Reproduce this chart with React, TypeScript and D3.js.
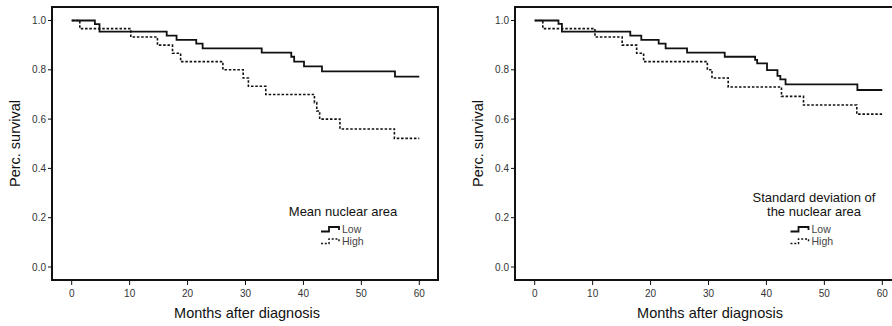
import React from 'react';
import * as d3 from 'd3';

// survival curves (months, proportion surviving)
const meanLowT = [0, 4.0, 4.8, 16.4, 18.1, 21.5, 22.6, 32.8, 37.9, 38.4, 40.1, 43.2, 55.8, 60];
const meanLowS = [1.0, 0.985, 0.955, 0.939, 0.921, 0.906, 0.887, 0.87, 0.853, 0.833, 0.814, 0.794, 0.772, 0.772];
const meanHighT = [0, 1.4, 10.2, 14.8, 17.4, 18.8, 26.1, 29.6, 30.5, 33.5, 41.9, 42.3, 42.8, 46.3, 55.7, 60];
const meanHighS = [1.0, 0.967, 0.933, 0.9, 0.867, 0.833, 0.8, 0.767, 0.733, 0.7, 0.667, 0.633, 0.6, 0.56, 0.522, 0.522];

const sdLowT = [0, 4.1, 4.7, 16.5, 18.4, 21.4, 22.6, 26.3, 32.8, 38.05, 38.4, 40.1, 41.9, 42.4, 43.3, 55.7, 60];
const sdLowS = [1.0, 0.986, 0.955, 0.939, 0.921, 0.906, 0.887, 0.87, 0.853, 0.84, 0.826, 0.799, 0.775, 0.761, 0.741, 0.718, 0.718];
const sdHighT = [0, 1.4, 10.4, 15.1, 17.6, 18.8, 29.8, 30.6, 33.4, 42.6, 46.4, 55.6, 60];
const sdHighS = [1.0, 0.967, 0.933, 0.9, 0.867, 0.833, 0.8, 0.767, 0.73, 0.692, 0.657, 0.62, 0.62];

const xTicks = [0, 10, 20, 30, 40, 50, 60];
const yTicks = [0, 0.2, 0.4, 0.6, 0.8, 1.0];
const groupLabels = ['Low', 'High'];

const panels = [
  { offset: 0, title: ['Mean nuclear area'], low: [meanLowT, meanLowS], high: [meanHighT, meanHighS], legendX: 343, glyphX: 321 },
  { offset: 463, title: ['Standard deviation of', 'the nuclear area'], low: [sdLowT, sdLowS], high: [sdHighT, sdHighS], legendX: 351, glyphX: 327.5 },
];

const font = 'Liberation Sans, Arial, sans-serif';
const frame = { left: 52, top: 7, right: 438, bottom: 280 };

// little step glyph used in the legend
const glyph: [number, number][] = [[0, 4.5], [8, 4.5], [8, 0], [18, 0], [18, 3]];

const Panel = ({ p }) => {
  const x = d3.scaleLinear().domain([0, 60]).range([71.7, 419.3]);
  const y = d3.scaleLinear().domain([0, 1]).range([267, 20.5]);
  const line = d3.line<[number, number]>().x(d => x(d[0])).y(d => y(d[1])).curve(d3.curveStepAfter);
  const pts = (s) => s[0].map((t, i) => [t, s[1][i]] as [number, number]);
  const glyphLine = d3.line<[number, number]>();

  return (
    <g transform={`translate(${p.offset},0)`}>
      <rect x={frame.left} y={frame.top} width={frame.right - frame.left} height={frame.bottom - frame.top}
        fill="none" stroke="#111" strokeWidth={2} />

      {yTicks.map(v => (
        <g key={v} transform={`translate(${frame.left},${y(v)})`}>
          <line x1={-4} x2={0} stroke="#111" />
          <text x={-6} dy="0.35em" textAnchor="end" fontSize={10} fill="#333">{d3.format('.1f')(v)}</text>
        </g>
      ))}
      {xTicks.map(v => (
        <g key={v} transform={`translate(${x(v)},${frame.bottom})`}>
          <line y1={0} y2={5} stroke="#111" />
          <text y={16.5} textAnchor="middle" fontSize={10} fill="#333">{v}</text>
        </g>
      ))}

      <text transform={`translate(19.5,${(frame.top + frame.bottom) / 2}) rotate(-90)`} textAnchor="middle"
        fontSize={14.5} fill="#111">Perc. survival</text>
      <text x={(frame.left + frame.right) / 2 + 2} y={318} textAnchor="middle" fontSize={14.5} fill="#111">
        Months after diagnosis</text>

      <path d={line(pts(p.low)) || ''} fill="none" stroke="#111" strokeWidth={1.8} />
      <path d={line(pts(p.high)) || ''} fill="none" stroke="#111" strokeWidth={1.6} strokeDasharray="2.5,1.8" />

      {p.title.map((t, i) => (
        <text key={t} x={p.legendX} y={215.7 - (p.title.length - 1 - i) * 13.4} textAnchor="middle" fontSize={13} fill="#111">{t}</text>
      ))}
      {groupLabels.map((g, i) => (
        <g key={g} transform={`translate(${p.glyphX},${227 + i * 12})`}>
          <path d={glyphLine(glyph) || ''} fill="none" stroke="#111" strokeWidth={i === 0 ? 1.8 : 1.5}
            strokeDasharray={i === 0 ? undefined : '2,1.8'} />
          <text x={21} y={5.5} fontSize={10.5} fill="#444">{g}</text>
        </g>
      ))}
    </g>
  );
};

export default function App() {
  return (
    <svg width={892} height={326} style={{ position: 'absolute', left: 0, top: 0, background: '#fff' }} fontFamily={font}>
      <rect width={892} height={326} fill="#fff" />
      {panels.map(p => <Panel key={p.offset} p={p} />)}
    </svg>
  );
}
